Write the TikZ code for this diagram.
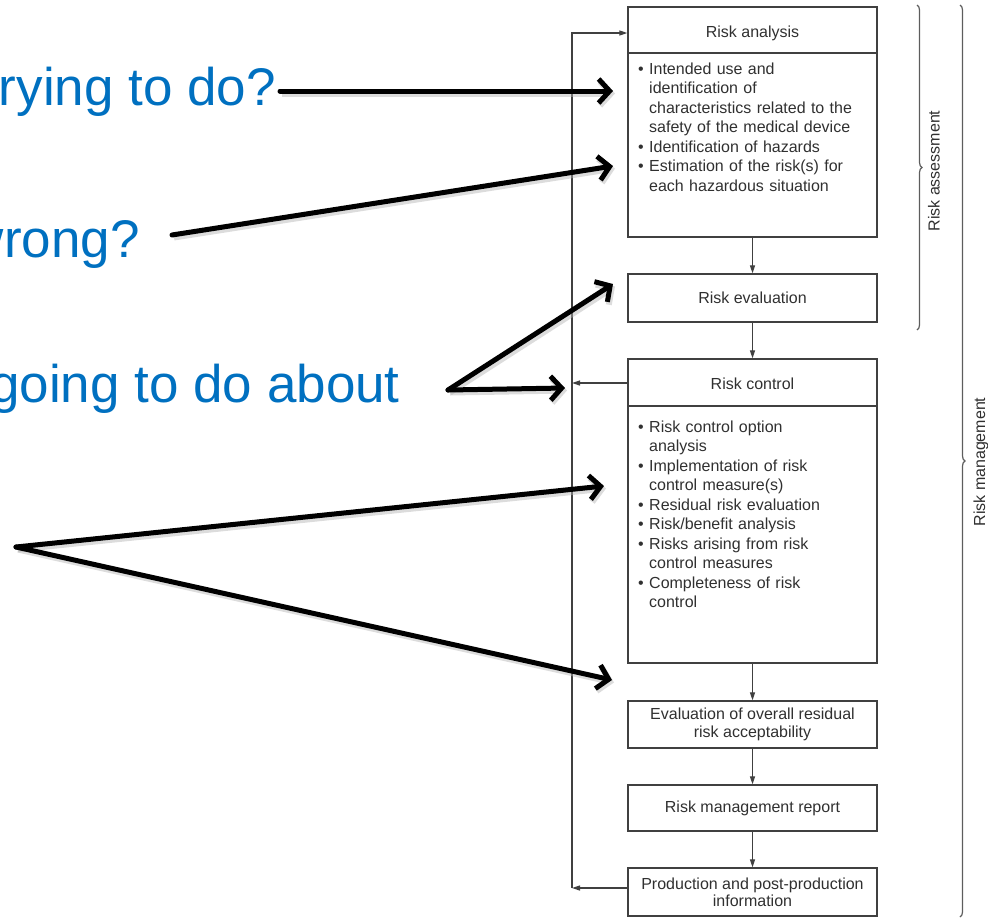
\documentclass[tikz,border=0pt]{standalone}
\usepackage{fontspec}
\setmainfont{Liberation Sans}
\usetikzlibrary{arrows.meta,decorations.pathreplacing,calc}
\definecolor{qblue}{HTML}{0070C0}
\definecolor{boxline}{HTML}{404040}
\definecolor{boxtext}{HTML}{303030}
\newcommand\bul{\par\noindent\hangindent=11pt\hangafter=1\makebox[11pt][l]{\textbullet}}
\begin{document}
\begin{tikzpicture}[x=1pt,y=-1pt,
  box/.style={draw=boxline, line width=1.3pt, minimum width=249pt, inner sep=0pt, text=boxtext, font=\fontsize{16}{17.3}\selectfont, align=center},
  btxt/.style={text=boxtext, font=\fontsize{16}{19.5}\selectfont, inner sep=0pt},
  flow/.style={draw=boxline, line width=1.2pt},
  ftip/.style={-{Triangle[length=8pt,width=5pt]}},
  big/.style={line width=5pt, -{Straight Barb[length=11pt,width=24pt]}, line cap=round, line join=round,
     preaction={draw=black!30, line width=6pt, opacity=0.45, transform canvas={shift={(2pt,-2.5pt)}}}},
  qtext/.style={text=qblue, font=\fontsize{53}{60}\selectfont, inner sep=0pt},
  brc/.style={draw=boxline!85, line width=1.2pt, decorate, decoration={brace, amplitude=5pt}},
  blabel/.style={text=boxtext, font=\fontsize{16}{18}\selectfont, rotate=90, inner sep=0pt}
]
\useasboundingbox (0,0) rectangle (988,919);
\clip (0,0) rectangle (988,919);

% questions
\node[qtext, anchor=base east] (q1) at (276,105) {trying to do?};
\node[qtext, anchor=base east] (q2) at (140,257) {wrong?};
\node[qtext, anchor=base east] (q3) at (400,402) {going to do about};

% boxes
\node[box, minimum height=230pt] (ana) at (752.5,122) {};
\coordinate (d1) at (0,53);
\draw[boxline, line width=1.3pt] (ana.west |- d1) -- (ana.east |- d1);
\node[btxt] (anat) at (752.5,33) {Risk analysis};
\node[btxt, anchor=north west, text width=236pt] (anab) at (638,54.5) {%
\bul\rule{0pt}{12pt}Intended use and\newline identification of\newline characteristics related to the\newline safety of the medical device
\bul Identification of hazards
\bul Estimation of the risk(s) for\newline each hazardous situation\par};

\node[box, minimum height=48pt] (eva) at (752.5,298) {Risk evaluation};

\node[box, minimum height=304pt] (ctl) at (752.5,511) {};
\coordinate (d2) at (0,406);
\draw[boxline, line width=1.3pt] (ctl.west |- d2) -- (ctl.east |- d2);
\node[btxt] (ctlt) at (752.5,384) {Risk control};
\node[btxt, anchor=north west, text width=236pt] (ctlb) at (638,412.5) {%
\bul\rule{0pt}{12pt}Risk control option\newline analysis
\bul Implementation of risk\newline control measure(s)
\bul Residual risk evaluation
\bul Risk/benefit analysis
\bul Risks arising from risk\newline control measures
\bul Completeness of risk\newline control\par};

\node[box, minimum height=47pt] (res) at (752.5,724.5) {Evaluation of overall residual\\risk acceptability};
\node[box, minimum height=46pt] (rep) at (752.5,808) {Risk management report};
\node[box, minimum height=48pt, font=\fontsize{16}{16.7}\selectfont] (prod) at (752.5,892) {Production and post-production\\information};

% flow arrows
\draw[flow,ftip] (ana.south) -- (eva.north);
\draw[flow,ftip] (eva.south) -- (ctl.north);
\draw[flow,ftip] (ctl.south) -- (res.north);
\draw[flow,ftip] (res.south) -- (rep.north);
\draw[flow,ftip] (rep.south) -- (prod.north);

% feedback loop
\coordinate (fbb) at (572,888);
\coordinate (fbt) at (572,33);
\coordinate (fbc) at (572,383);
\draw[flow,ftip] (prod.west |- fbb) -- (fbb);
\draw[flow,ftip] (fbb) -- (fbt) -- (ana.west |- fbt);
\draw[flow,ftip] (ctl.west |- fbc) -- (fbc);

% braces
\coordinate (b1t) at (917,5);
\coordinate (b1b) at (917,330);
\draw[brc] (b1t) -- (b1b);
\node[blabel] (l1) at (934,171) {Risk assessment};
\coordinate (b2t) at (960,5);
\coordinate (b2b) at (960,917);
\draw[brc] (b2t) -- (b2b);
\node[blabel] (l2) at (981,462) {Risk management};

% big arrows
\coordinate (a1s) at (280,91);
\coordinate (a1e) at (613,91);
\coordinate (a2s) at (172,235);
\coordinate (a2e) at (613,166);
\coordinate (a3s) at (448,390);
\coordinate (a3e) at (613,284);
\coordinate (a3f) at (565,388);
\coordinate (a4s) at (16,547);
\coordinate (a4e) at (604,486);
\coordinate (a4f) at (612,680);
\draw[big] (a1s) -- (a1e);
\draw[big] (a2s) -- (a2e);
\draw[big] (a3s) -- (a3e);
\draw[big] (a3s) -- (a3f);
\draw[big] (a4s) -- (a4e);
\draw[big] (a4s) -- (a4f);
\end{tikzpicture}
\end{document}
